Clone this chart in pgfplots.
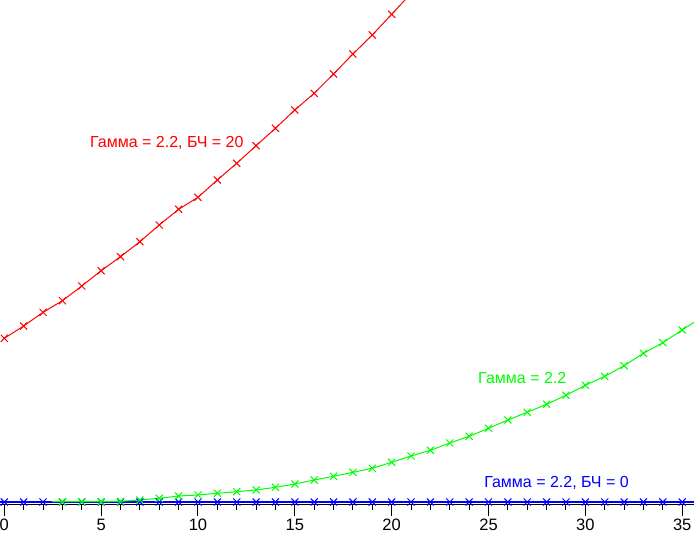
\documentclass[border=0pt]{standalone}
\usepackage{pgfplots}
\pgfplotsset{compat=1.18}
\usepackage{fontspec}
\setmainfont{Liberation Sans}
\definecolor{cred}{RGB}{255,0,0}
\definecolor{cgreen}{RGB}{0,255,0}
\definecolor{cblue}{RGB}{0,0,255}
\begin{document}
\begin{tikzpicture}
\begin{axis}[
  at={(0pt,28pt)}, anchor=south west,
  scale only axis, width=694pt, height=505pt,
  xmin=-0.222, xmax=35.61, ymin=-3, ymax=502,
  axis x line*=bottom, axis y line=none,
  xtick={0,5,...,35}, minor x tick num=4,
  tick align=outside,
  major tick length=11pt, minor tick length=5pt,
  tick style={black, line width=1pt},
  x axis line style={black, line width=1pt},
  xticklabel style={font=\fontsize{16.5}{16.5}\selectfont, inner sep=1pt, yshift=-2pt},
  /pgf/number format/assume math mode=true,
  ytick=\empty,
  every axis plot/.append style={line width=1pt, mark size=5pt, mark options={solid, line width=1pt}},
]
% blue: Gamma 2.2, black level 0
\addplot[cblue, mark=x, line width=1.3pt] coordinates {
(-0.5,0)(0,0)(1,0)(2,0)(3,0)(4,0)(5,0)(6,0)(7,0)(8,0)(9,0)(10,0)(11,0)(12,0)(13,0)(14,0)(15,0)(16,0)(17,0)(18,0)(19,0)(20,0)(21,0)(22,0)(23,0)(24,0)(25,0)(26,0)(27,0)(28,0)(29,0)(30,0)(31,0)(32,0)(33,0)(34,0)(35,0)(36,0)};
% green: Gamma 2.2
\addplot[cgreen, mark=x, mark phase=2, mark repeat=1] coordinates {
(2.46,0.3)(3,0.3)(4,0.3)(5,0.3)(6,0.7)(7,2)(8,3.7)(9,6)(10,7)(11,8.7)(12,10.3)(13,12)(14,14.7)(15,18)(16,22)(17,25.7)(18,29.7)(19,33.7)(20,39.7)(21,46)(22,51.7)(23,59)(24,65.7)(25,73.7)(26,82)(27,89.7)(28,97.7)(29,106.7)(30,116.7)(31,125.7)(32,136.3)(33,148.7)(34,159.3)(35,172)(36,184.5)};
% red: Gamma 2.2, black level 20
\addplot[cred, mark=x] coordinates {
(0,163.7)(1,176)(2,189.7)(3,201.3)(4,216)(5,231.3)(6,245.3)(7,260.3)(8,277)(9,292.7)(10,304.7)(11,322)(12,338.7)(13,356.3)(14,373.7)(15,392)(16,408.7)(17,428)(18,448)(19,467)(20,487.7)(21,508.5)};
\node[anchor=west, inner sep=0pt, text=cred, font=\fontsize{16}{16}\selectfont] at (axis cs:4.42,359) {Гамма = 2.2, БЧ = 20};
\node[anchor=west, inner sep=0pt, text=cgreen, font=\fontsize{16}{16}\selectfont] at (axis cs:24.46,124) {Гамма = 2.2};
\node[anchor=west, inner sep=0pt, text=cblue, font=\fontsize{16}{16}\selectfont] at (axis cs:24.77,19) {Гамма = 2.2, БЧ = 0};
\end{axis}
\pgfresetboundingbox
\useasboundingbox (0,0) rectangle (694pt,533pt);
\end{tikzpicture}
\end{document}
